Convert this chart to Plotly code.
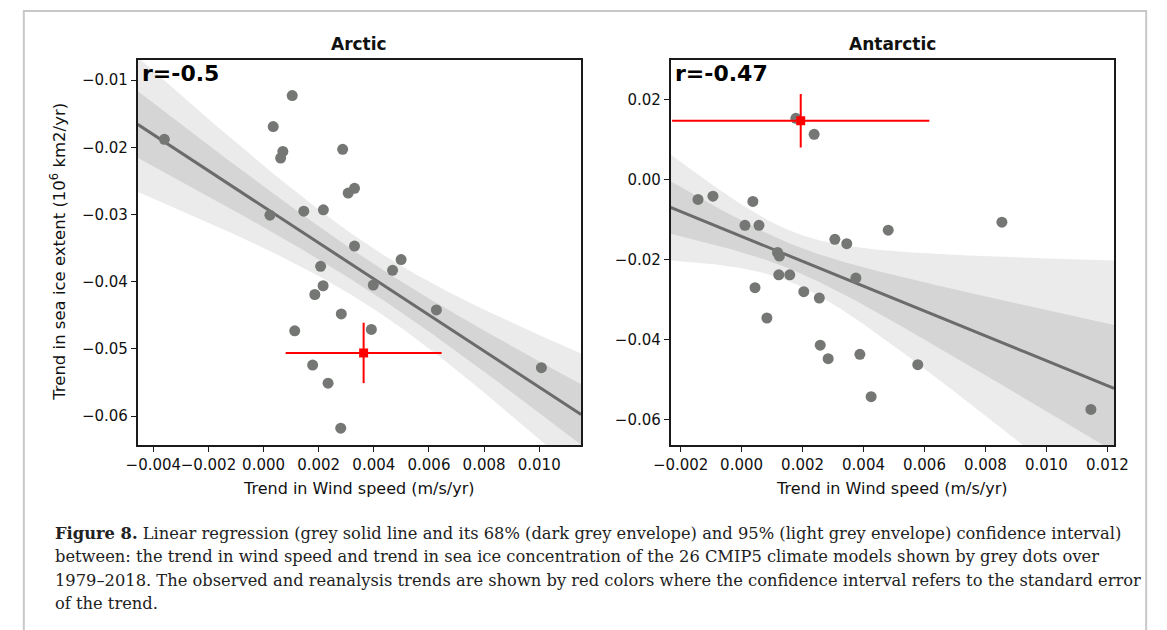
import numpy as np
import plotly.graph_objects as go

# Trend in wind speed (m/s/yr) and sea ice extent (10^6 km2/yr), 26 CMIP5 models, 1979-2018
arctic_wind = [-0.00360, 0.00035, 0.00104, 0.00070, 0.00062, 0.00287, 0.00307, 0.00330,
               0.00023, 0.00146, 0.00217, 0.00330, 0.00499, 0.00468, 0.00207, 0.00398,
               0.00216, 0.00186, 0.00627, 0.00282, 0.00113, 0.00391, 0.00178, 0.00234,
               0.00280, 0.01008]
arctic_ice = [-0.0188, -0.0169, -0.0123, -0.0206, -0.0216, -0.0203, -0.0268, -0.0261,
              -0.0301, -0.0295, -0.0293, -0.0347, -0.0367, -0.0383, -0.0377, -0.0405,
              -0.0406, -0.0419, -0.0442, -0.0448, -0.0473, -0.0471, -0.0524, -0.0551,
              -0.0618, -0.0528]

antarctic_wind = [-0.00143, -0.00094, 0.00037, 0.00011, 0.00057, 0.00178, 0.00238, 0.00306,
                  0.00345, 0.00481, 0.00854, 0.00118, 0.00124, 0.00375, 0.00122, 0.00158,
                  0.00044, 0.00204, 0.00255, 0.00083, 0.00258, 0.00284, 0.00388, 0.00578,
                  0.00425, 0.01146]
antarctic_ice = [-0.0049, -0.0041, -0.0054, -0.0114, -0.0114, 0.0154, 0.0114, -0.0149,
                 -0.0160, -0.0126, -0.0106, -0.0182, -0.0191, -0.0246, -0.0238, -0.0238,
                 -0.0270, -0.0280, -0.0296, -0.0346, -0.0414, -0.0448, -0.0437, -0.0463,
                 -0.0543, -0.0575]

# Observed / reanalysis trend and its standard error
arctic_obs_wind, arctic_obs_wind_se = 0.00363, 0.00283
arctic_obs_ice, arctic_obs_ice_se = -0.0506, 0.0045
antarctic_obs_wind, antarctic_obs_wind_se = 0.00194, 0.00422
antarctic_obs_ice, antarctic_obs_ice_se = 0.0148, 0.0067

arctic_r = "r=-0.5"
antarctic_r = "r=-0.47"

W, H = 1167, 630
FONT = "DejaVu Sans"


def px(x):
    return x / W


def py(y):
    return 1 - y / H


def regression_bands(x, y, grid):
    """OLS fit with leverage-corrected (HC3) standard error of the fitted mean."""
    x = np.asarray(x)
    y = np.asarray(y)
    n = len(x)
    xm, ym = x.mean(), y.mean()
    sxx = ((x - xm) ** 2).sum()
    slope = ((x - xm) * (y - ym)).sum() / sxx
    resid = y - (ym + slope * (x - xm))
    lev = 1 / n + (x - xm) ** 2 / sxx
    e2 = (resid / (1 - lev)) ** 2
    fit = ym + slope * (grid - xm)
    w = 1 / n + np.outer(grid - xm, x - xm) / sxx
    se = np.sqrt((w ** 2 * e2).sum(axis=1))
    return fit, se


# Student t quantiles (24 degrees of freedom) for the 95% and 68% intervals
T95, T68 = 2.064, 1.021

panels = [
    dict(x=arctic_wind, y=arctic_ice, ox=arctic_obs_wind, oxe=arctic_obs_wind_se,
         oy=arctic_obs_ice, oye=arctic_obs_ice_se, xr=[-0.00457, 0.01152],
         yr=[-0.0643, -0.0070], xt=np.arange(-0.004, 0.0101, 0.002),
         yt=np.arange(-0.06, -0.0099, 0.01), xa="x", ya="y"),
    dict(x=antarctic_wind, y=antarctic_ice, ox=antarctic_obs_wind, oxe=antarctic_obs_wind_se,
         oy=antarctic_obs_ice, oye=antarctic_obs_ice_se, xr=[-0.00233, 0.01222],
         yr=[-0.0664, 0.0300], xt=np.arange(-0.002, 0.0121, 0.002),
         yt=np.arange(-0.06, 0.021, 0.02), xa="x2", ya="y2"),
]

fig = go.Figure()

for p in panels:
    grid = np.linspace(p["xr"][0], p["xr"][1], 300)
    fit, se = regression_bands(p["x"], p["y"], grid)
    for z, col in [(T95, "#ebebeb"), (T68, "#d5d5d5")]:
        fig.add_trace(go.Scatter(x=grid, y=fit - z * se, mode="lines", line=dict(width=0),
                                 hoverinfo="skip", showlegend=False,
                                 xaxis=p["xa"], yaxis=p["ya"]))
        fig.add_trace(go.Scatter(x=grid, y=fit + z * se, mode="lines", line=dict(width=0),
                                 fill="tonexty", fillcolor=col, hoverinfo="skip",
                                 showlegend=False, xaxis=p["xa"], yaxis=p["ya"]))
    fig.add_trace(go.Scatter(x=grid, y=fit, mode="lines", line=dict(color="#6b6b6b", width=3),
                             showlegend=False, xaxis=p["xa"], yaxis=p["ya"]))
    fig.add_trace(go.Scatter(x=p["x"], y=p["y"], mode="markers",
                             marker=dict(size=11, color="#747774", line=dict(width=0)),
                             showlegend=False, xaxis=p["xa"], yaxis=p["ya"]))
    fig.add_trace(go.Scatter(x=[p["ox"]], y=[p["oy"]], mode="markers",
                             marker=dict(symbol="square", size=9, color="#ff0000"),
                             error_x=dict(type="data", array=[p["oxe"]], color="#ff0000",
                                          thickness=2, width=0),
                             error_y=dict(type="data", array=[p["oye"]], color="#ff0000",
                                          thickness=2, width=0),
                             showlegend=False, xaxis=p["xa"], yaxis=p["ya"]))

axis_common = dict(showline=True, mirror=True, linecolor="#1a1a1a", linewidth=1.5,
                   ticks="outside", ticklen=5, tickwidth=1.3, tickcolor="#1a1a1a",
                   showgrid=False, zeroline=False, tickangle=0,
                   tickfont=dict(family=FONT, size=15, color="#111"))

fig.update_layout(
    width=W, height=H, margin=dict(l=0, r=0, t=0, b=0),
    paper_bgcolor="white", plot_bgcolor="white", showlegend=False,
    xaxis=dict(domain=[px(124), px(580)], range=panels[0]["xr"], tickvals=panels[0]["xt"],
               tickformat=".3f", anchor="y", **axis_common),
    yaxis=dict(domain=[py(445), py(60)], range=panels[0]["yr"], tickvals=panels[0]["yt"],
               tickformat=".2f", anchor="x", **axis_common),
    xaxis2=dict(domain=[px(672), px(1128)], range=panels[1]["xr"], tickvals=panels[1]["xt"],
                tickformat=".3f", anchor="y2", **axis_common),
    yaxis2=dict(domain=[py(445), py(60)], range=panels[1]["yr"], tickvals=panels[1]["yt"],
                tickformat=".2f", anchor="x2", **axis_common),
)

ann = []
def text(x, y, s, size, xanchor="center", family=FONT, angle=0, color="#111"):
    ann.append(dict(x=px(x), y=py(y), xref="paper", yref="paper", text=s, showarrow=False,
                    xanchor=xanchor, yanchor="middle", textangle=angle,
                    font=dict(family=family, size=size, color=color)))

text(352, 44, "<b>Arctic</b>", 17)
text(900, 44, "<b>Antarctic</b>", 17)
text(126, 73, "<b>" + arctic_r + "</b>", 22, xanchor="left", color="#000")
text(674, 73, "<b>" + antarctic_r + "</b>", 22, xanchor="left", color="#000")
text(352, 488, "Trend in Wind speed (m/s/yr)", 16)
text(900, 488, "Trend in Wind speed (m/s/yr)", 16)
text(42, 252, "Trend in sea ice extent (10<sup>6</sup> km2/yr)", 16.5, angle=-90)

caption = [
    "<b>Figure 8.</b> Linear regression (grey solid line and its 68% (dark grey envelope) and 95% "
    "(light grey envelope) confidence interval)",
    "between: the trend in wind speed and trend in sea ice concentration of the 26 CMIP5 climate "
    "models shown by grey dots over",
    "1979–2018. The observed and reanalysis trends are shown by red colors where the confidence "
    "interval refers to the standard error",
    "of the trend.",
]
for i, line in enumerate(caption):
    text(37, 533 + i * 23.5, line, 16.3, xanchor="left", family="DejaVu Serif", color="#222")

fig.update_layout(annotations=ann)

fig.add_shape(type="rect", xref="paper", yref="paper", x0=px(7), x1=px(1161),
              y0=py(11), y1=py(660), line=dict(color="#c8c8c8", width=2), layer="below")

fig.write_html("out.html", post_script="document.body.style.margin='0';")
